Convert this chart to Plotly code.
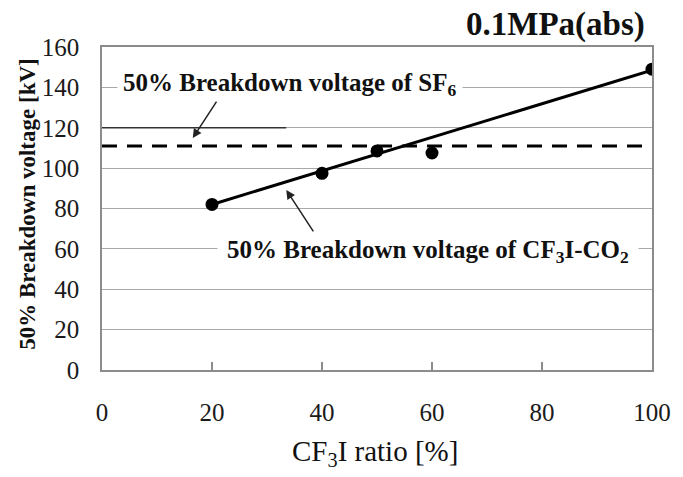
import plotly.graph_objects as go

# Data
ratio = [20, 40, 50, 60, 100]
voltage = [82, 97.4, 108.5, 107.5, 149]
fit_x = [20, 100]
fit_y = [82, 148.5]
sf6_x = [0, 99]
sf6_y = [111, 111]
x_ticks = [0, 20, 40, 60, 80, 100]
y_ticks = [0, 20, 40, 60, 80, 100, 120, 140, 160]

SERIF = "Liberation Serif, Times New Roman, serif"

fig = go.Figure()

fig.add_trace(go.Scatter(x=sf6_x, y=sf6_y, mode="lines",
                         line=dict(color="black", width=3, dash="15px,10px"),
                         showlegend=False, hoverinfo="skip"))
fig.add_trace(go.Scatter(x=fit_x, y=fit_y, mode="lines",
                         line=dict(color="black", width=3),
                         showlegend=False, hoverinfo="skip"))
fig.add_trace(go.Scatter(x=ratio, y=voltage, mode="markers",
                         marker=dict(color="black", size=13),
                         showlegend=False))

# short dark segment at 120
fig.add_shape(type="line", x0=0, x1=33.5, y0=120, y1=120, xref="x", yref="y",
              line=dict(color="#333333", width=1.5), layer="above")

fig.update_xaxes(range=[0, 100], tickvals=x_ticks, ticktext=[str(v) for v in x_ticks],
                 showgrid=False, zeroline=False,
                 showline=True, linecolor="#8c8c8c", linewidth=1.5, mirror=True,
                 ticks="inside", ticklen=8, tickcolor="#8c8c8c", tickwidth=1.5,
                 ticklabelstandoff=19,
                 tickfont=dict(family=SERIF, size=25, color="#1a1a1a"))
fig.update_yaxes(range=[0, 160], tickvals=y_ticks, ticktext=[str(v) for v in y_ticks],
                 showgrid=True, gridcolor="#a8a8a8", gridwidth=1.2, zeroline=False,
                 showline=True, linecolor="#8c8c8c", linewidth=1.5, mirror=True,
                 ticks="", ticklabelstandoff=16,
                 tickfont=dict(family=SERIF, size=25, color="#1a1a1a"))

annotations = [
    dict(text="<b>0.1MPa(abs)</b>", xref="paper", yref="paper", x=0.99, y=1.071,
         xanchor="right", yanchor="middle", showarrow=False,
         font=dict(family=SERIF, size=33, color="#111111")),
    dict(text="<b>50% Breakdown voltage of SF<sub>6</sub></b>", xref="x", yref="y",
         x=2.75, y=141.5, xanchor="left", yanchor="middle", showarrow=False,
         bgcolor="white", borderpad=5,
         font=dict(family=SERIF, size=25, color="#111111")),
    dict(text="<b>50% Breakdown voltage of CF<sub>3</sub>I-CO<sub>2</sub></b>", xref="x", yref="y",
         x=20.95, y=58.5, xanchor="left", yanchor="middle", showarrow=False,
         bgcolor="white", borderpad=9,
         font=dict(family=SERIF, size=25, color="#111111")),
    dict(text="", xref="x", yref="y", x=16.5, y=114.9, axref="x", ayref="y",
         ax=21.0, ay=133.7, showarrow=True, arrowhead=2, arrowsize=1.2,
         arrowwidth=1.5, arrowcolor="#222222"),
    dict(text="", xref="x", yref="y", x=33.5, y=89.2, axref="x", ayref="y",
         ax=38.6, ay=67.9, showarrow=True, arrowhead=2, arrowsize=1.2,
         arrowwidth=1.5, arrowcolor="#222222"),
    dict(text="CF<sub>3</sub>I ratio [%]", xref="paper", yref="paper", x=0.496, y=-0.257,
         xanchor="center", yanchor="middle", showarrow=False,
         font=dict(family=SERIF, size=29, color="#111111")),
    dict(text="<b>50% Breakdown voltage [kV]</b>", xref="paper", yref="paper", x=-0.136, y=0.515,
         xanchor="center", yanchor="middle", showarrow=False, textangle=-90,
         font=dict(family=SERIF, size=23, color="#111111")),
]

fig.update_layout(width=683, height=477, autosize=False,
                  margin=dict(l=102, r=20, t=47, b=107),
                  plot_bgcolor="white", paper_bgcolor="white",
                  annotations=annotations)

fig.write_html("out.html")
